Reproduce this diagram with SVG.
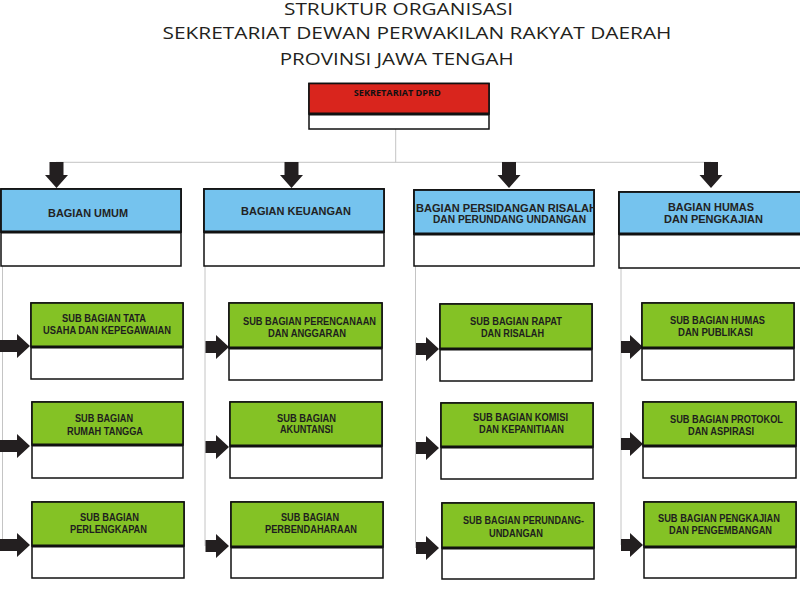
<svg xmlns="http://www.w3.org/2000/svg" width="800" height="594" viewBox="0 0 800 594">
<style>
.title{font-family:"Open Sans","Liberation Sans",sans-serif;font-size:16.5px;fill:#231f20;text-anchor:middle}
.red{fill:#d9251d;stroke:#111;stroke-width:1.6}
.blue{fill:#75c3ee;stroke:#111;stroke-width:1.8}
.green{fill:#84c225;stroke:#111;stroke-width:1.6}
.white{fill:#fff;stroke:#111;stroke-width:1.5}
.sep{stroke:#111;stroke-width:3}
.bt{font-family:"Liberation Sans",Arial,sans-serif;font-weight:bold;font-size:11.5px;fill:#222;text-anchor:middle}
.gt{font-family:"Liberation Sans",Arial,sans-serif;font-weight:bold;font-size:11px;fill:#1e1e1e;text-anchor:middle}
.rt{font-family:"Open Sans","Liberation Sans",sans-serif;font-weight:bold;font-size:9.5px;fill:#111;text-anchor:middle}
.ln{stroke:#c4c4c4;stroke-width:1;fill:none}
.ar{fill:#231f20}
</style>
<defs>
<clipPath id="c3"><rect x="414" y="190" width="181" height="44"/></clipPath>
</defs>

<g id="title">
<text class="title" x="398.5" y="14.5" textLength="229" lengthAdjust="spacingAndGlyphs">STRUKTUR ORGANISASI</text>
<text class="title" x="417" y="39" textLength="509" lengthAdjust="spacingAndGlyphs">SEKRETARIAT DEWAN PERWAKILAN RAKYAT DAERAH</text>
<text class="title" x="396.7" y="65" textLength="234" lengthAdjust="spacingAndGlyphs">PROVINSI JAWA TENGAH</text>
</g>

<g id="connectors">
<path class="ln" d="M395.7,129 V162.3 M56,162.3 H711 M2.5,266 V545 M205,266 V546 M415.5,266 V548 M621,268 V545"/>
<path class="ar" d="M49.5,162 H63.5 V175 H68 L56.5,188 L45,175 H49.5 Z"/>
<path class="ar" d="M284.5,162 H298.5 V175 H303 L291.5,188 L280,175 H284.5 Z"/>
<path class="ar" d="M502,162 H516 V175 H520.5 L509,188 L497.5,175 H502 Z"/>
<path class="ar" d="M704,162 H718 V175 H722.5 L711,188 L699.5,175 H704 Z"/>
<path class="ar" d="M0,340 H17 V334 L30,346 L17,358 V352 H0 Z"/>
<path class="ar" d="M0,440 H17 V434 L30,446 L17,458 V452 H0 Z"/>
<path class="ar" d="M0,539 H17 V533 L30,545 L17,557 V551 H0 Z"/>
<path class="ar" d="M205.5,341 H216 V335 L229,347 L216,359 V353 H205.5 Z"/>
<path class="ar" d="M205.5,441 H216 V435 L229,447 L216,459 V453 H205.5 Z"/>
<path class="ar" d="M205.5,540 H216 V534 L229,546 L216,558 V552 H205.5 Z"/>
<path class="ar" d="M416,343 H426 V337 L439,349 L426,361 V355 H416 Z"/>
<path class="ar" d="M416,442 H426 V436 L439,448 L426,460 V454 H416 Z"/>
<path class="ar" d="M416,542 H426 V536 L439,548 L426,560 V554 H416 Z"/>
<path class="ar" d="M621,341 H630 V335 L643,347 L630,359 V353 H621 Z"/>
<path class="ar" d="M621,438 H630 V432 L643,444 L630,456 V450 H621 Z"/>
<path class="ar" d="M621,539 H630 V533 L643,545 L630,557 V551 H621 Z"/>
</g>

<g id="sekretariat">
<rect class="white" x="309" y="83.5" width="180" height="45.5"/>
<rect class="red" x="309" y="83.5" width="180" height="30.5"/>
<line class="sep" x1="309" y1="114" x2="489" y2="114"/>
<text class="rt" x="397.3" y="96" textLength="87" lengthAdjust="spacingAndGlyphs">SEKRETARIAT DPRD</text>
</g>

<g id="bagian-umum">
<rect class="white" x="1" y="189" width="180" height="77"/>
<rect class="blue" x="1" y="189" width="180" height="43"/>
<line class="sep" x1="1" y1="232" x2="181" y2="232"/>
<text class="bt" x="88" y="217" textLength="80" lengthAdjust="spacingAndGlyphs">BAGIAN UMUM</text>
</g>
<g id="bagian-keuangan">
<rect class="white" x="204" y="189" width="180" height="77"/>
<rect class="blue" x="204" y="189" width="180" height="43"/>
<line class="sep" x1="204" y1="232" x2="384" y2="232"/>
<text class="bt" x="296" y="215" textLength="110" lengthAdjust="spacingAndGlyphs">BAGIAN KEUANGAN</text>
</g>
<g id="bagian-persidangan">
<rect class="white" x="414" y="190" width="180" height="76"/>
<rect class="blue" x="414" y="190" width="180" height="44"/>
<line class="sep" x1="414" y1="234" x2="594" y2="234"/>
<text class="bt" x="506.5" y="211.7" textLength="181" lengthAdjust="spacingAndGlyphs" clip-path="url(#c3)">BAGIAN PERSIDANGAN RISALAH</text>
<text class="bt" x="509.5" y="222.7" textLength="153" lengthAdjust="spacingAndGlyphs">DAN PERUNDANG UNDANGAN</text>
</g>
<g id="bagian-humas">
<rect class="white" x="619" y="192" width="183" height="76"/>
<rect class="blue" x="619" y="192" width="183" height="42"/>
<line class="sep" x1="619" y1="234" x2="802" y2="234"/>
<text class="bt" x="711" y="211" textLength="86" lengthAdjust="spacingAndGlyphs">BAGIAN HUMAS</text>
<text class="bt" x="713.5" y="223" textLength="99" lengthAdjust="spacingAndGlyphs">DAN PENGKAJIAN</text>
</g>

<g id="sub-tata-usaha">
<rect class="white" x="31" y="303" width="152" height="76"/>
<rect class="green" x="31" y="303" width="152" height="44"/>
<line class="sep" x1="31" y1="347" x2="183" y2="347"/>
<text class="gt" x="104" y="322" textLength="84" lengthAdjust="spacingAndGlyphs">SUB BAGIAN TATA</text>
<text class="gt" x="107" y="334" textLength="128" lengthAdjust="spacingAndGlyphs">USAHA DAN KEPEGAWAIAN</text>
</g>
<g id="sub-rumah-tangga">
<rect class="white" x="32" y="402" width="151" height="76"/>
<rect class="green" x="32" y="402" width="151" height="43"/>
<line class="sep" x1="32" y1="445" x2="183" y2="445"/>
<text class="gt" x="104" y="422" textLength="58" lengthAdjust="spacingAndGlyphs">SUB BAGIAN</text>
<text class="gt" x="105" y="435" textLength="76" lengthAdjust="spacingAndGlyphs">RUMAH TANGGA</text>
</g>
<g id="sub-perlengkapan">
<rect class="white" x="32" y="502" width="152" height="76"/>
<rect class="green" x="32" y="502" width="152" height="44"/>
<line class="sep" x1="32" y1="546" x2="184" y2="546"/>
<text class="gt" x="109.5" y="521" textLength="59" lengthAdjust="spacingAndGlyphs">SUB BAGIAN</text>
<text class="gt" x="108.5" y="533" textLength="77" lengthAdjust="spacingAndGlyphs">PERLENGKAPAN</text>
</g>

<g id="sub-perencanaan">
<rect class="white" x="229" y="303" width="153" height="77"/>
<rect class="green" x="229" y="303" width="153" height="45"/>
<line class="sep" x1="229" y1="348" x2="382" y2="348"/>
<text class="gt" x="309.5" y="325" textLength="133" lengthAdjust="spacingAndGlyphs">SUB BAGIAN PERENCANAAN</text>
<text class="gt" x="307" y="337" textLength="78" lengthAdjust="spacingAndGlyphs">DAN ANGGARAN</text>
</g>
<g id="sub-akuntansi">
<rect class="white" x="230" y="402" width="152" height="76"/>
<rect class="green" x="230" y="402" width="152" height="44"/>
<line class="sep" x1="230" y1="446" x2="382" y2="446"/>
<text class="gt" x="306.5" y="422" textLength="59" lengthAdjust="spacingAndGlyphs">SUB BAGIAN</text>
<text class="gt" x="306.5" y="433" textLength="53" lengthAdjust="spacingAndGlyphs">AKUNTANSI</text>
</g>
<g id="sub-perbendaharaan">
<rect class="white" x="231" y="502" width="152" height="76"/>
<rect class="green" x="231" y="502" width="152" height="45"/>
<line class="sep" x1="231" y1="547" x2="383" y2="547"/>
<text class="gt" x="310" y="521" textLength="58" lengthAdjust="spacingAndGlyphs">SUB BAGIAN</text>
<text class="gt" x="311" y="533" textLength="92" lengthAdjust="spacingAndGlyphs">PERBENDAHARAAN</text>
</g>

<g id="sub-rapat">
<rect class="white" x="440" y="304" width="152" height="77"/>
<rect class="green" x="440" y="304" width="152" height="45"/>
<line class="sep" x1="440" y1="349" x2="592" y2="349"/>
<text class="gt" x="516" y="325" textLength="92" lengthAdjust="spacingAndGlyphs">SUB BAGIAN RAPAT</text>
<text class="gt" x="512.5" y="337" textLength="63" lengthAdjust="spacingAndGlyphs">DAN RISALAH</text>
</g>
<g id="sub-komisi">
<rect class="white" x="441" y="403" width="152" height="76"/>
<rect class="green" x="441" y="403" width="152" height="44"/>
<line class="sep" x1="441" y1="447" x2="593" y2="447"/>
<text class="gt" x="520.5" y="421" textLength="95" lengthAdjust="spacingAndGlyphs">SUB BAGIAN KOMISI</text>
<text class="gt" x="521.5" y="433" textLength="85" lengthAdjust="spacingAndGlyphs">DAN KEPANITIAAN</text>
</g>
<g id="sub-perundang">
<rect class="white" x="442" y="503" width="152" height="76"/>
<rect class="green" x="442" y="503" width="152" height="45"/>
<line class="sep" x1="442" y1="548" x2="594" y2="548"/>
<text class="gt" x="523.5" y="524" textLength="121" lengthAdjust="spacingAndGlyphs">SUB BAGIAN PERUNDANG-</text>
<text class="gt" x="516" y="537" textLength="54" lengthAdjust="spacingAndGlyphs">UNDANGAN</text>
</g>

<g id="sub-humas">
<rect class="white" x="642" y="303" width="152" height="77"/>
<rect class="green" x="642" y="303" width="152" height="45"/>
<line class="sep" x1="642" y1="348" x2="794" y2="348"/>
<text class="gt" x="717.5" y="324" textLength="95" lengthAdjust="spacingAndGlyphs">SUB BAGIAN HUMAS</text>
<text class="gt" x="715.5" y="336" textLength="75" lengthAdjust="spacingAndGlyphs">DAN PUBLIKASI</text>
</g>
<g id="sub-protokol">
<rect class="white" x="643" y="402" width="153" height="76"/>
<rect class="green" x="643" y="402" width="153" height="44"/>
<line class="sep" x1="643" y1="446" x2="796" y2="446"/>
<text class="gt" x="726.5" y="423" textLength="113" lengthAdjust="spacingAndGlyphs">SUB BAGIAN PROTOKOL</text>
<text class="gt" x="721" y="435" textLength="66" lengthAdjust="spacingAndGlyphs">DAN ASPIRASI</text>
</g>
<g id="sub-pengkajian">
<rect class="white" x="644" y="502" width="152" height="76"/>
<rect class="green" x="644" y="502" width="152" height="45"/>
<line class="sep" x1="644" y1="547" x2="796" y2="547"/>
<text class="gt" x="719" y="522" textLength="122" lengthAdjust="spacingAndGlyphs">SUB BAGIAN PENGKAJIAN</text>
<text class="gt" x="720.5" y="534" textLength="103" lengthAdjust="spacingAndGlyphs">DAN PENGEMBANGAN</text>
</g>
</svg>
